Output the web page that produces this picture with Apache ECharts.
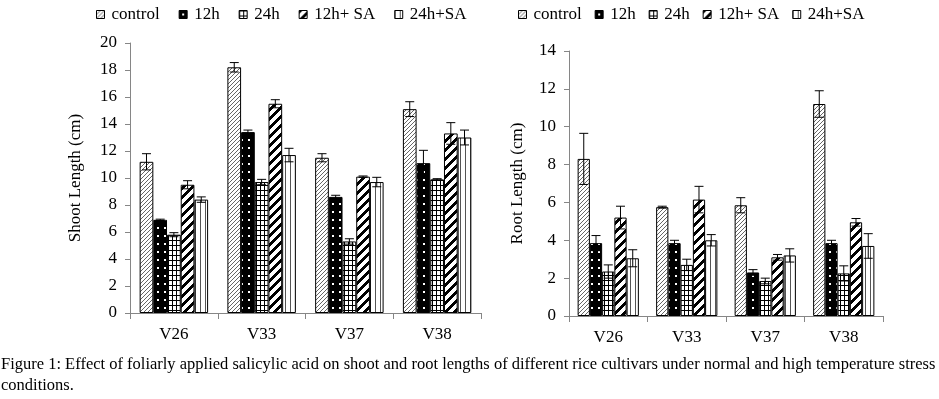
<!DOCTYPE html>
<html><head><meta charset="utf-8">
<script src="https://cdn.jsdelivr.net/npm/echarts@6/dist/echarts.min.js"></script>
<style>html,body{margin:0;padding:0;background:#fff}#c{width:939px;height:399px}</style>
</head><body><div id="c"></div>
<script>
const categories = ['V26', 'V33', 'V37', 'V38'];
const seriesNames = ['control', '12h', '24h', '12h+ SA', '24h+SA'];

// Shoot length (cm)
const shootControl = [11.2, 18.2, 11.5, 15.1];
const shoot12h     = [6.9, 13.4, 8.6, 11.1];
const shoot24h     = [5.8, 9.7, 5.3, 9.9];
const shoot12hSA   = [9.5, 15.5, 10.1, 13.3];
const shoot24hSA   = [8.4, 11.7, 9.7, 13.0];
const shootControlErr = [0.6, 0.35, 0.3, 0.55];
const shoot12hErr     = [0.05, 0.15, 0.12, 0.95];
const shoot24hErr     = [0.15, 0.2, 0.2, 0.05];
const shoot12hSAErr   = [0.3, 0.3, 0.05, 0.8];
const shoot24hSAErr   = [0.2, 0.5, 0.35, 0.55];

// Root length (cm)
const rootControl = [8.3, 5.75, 5.85, 11.2];
const root12h     = [3.85, 3.85, 2.3, 3.85];
const root24h     = [2.35, 2.7, 1.85, 2.25];
const root12hSA   = [5.2, 6.15, 3.1, 4.95];
const root24hSA   = [3.05, 4.0, 3.2, 3.7];
const rootControlErr = [1.35, 0.05, 0.4, 0.7];
const root12hErr     = [0.4, 0.15, 0.15, 0.15];
const root24hErr     = [0.35, 0.3, 0.15, 0.4];
const root12hSAErr   = [0.6, 0.7, 0.15, 0.2];
const root24hSAErr   = [0.45, 0.3, 0.35, 0.65];

const shootTicks = [0, 2, 4, 6, 8, 10, 12, 14, 16, 18, 20];
const rootTicks = [0, 2, 4, 6, 8, 10, 12, 14];
const captionLine1 = 'Figure 1: Effect of foliarly applied salicylic acid on shoot and root lengths of different rice cultivars under normal and high temperature stress';
const captionLine2 = 'conditions.';

// ---- patterns ----
function tile(w, h, bg, draw) {
  const c = document.createElement('canvas'); c.width = w; c.height = h;
  const g = c.getContext('2d'); g.fillStyle = bg; g.fillRect(0, 0, w, h); draw(g, w, h); return c;
}
function diag(g, n, t, col) {
  g.fillStyle = col;
  for (let x = 0; x < n; x++) for (let k = 0; k < t; k++) g.fillRect(x, (n - 1 - x + k) % n, 1, 1);
}
const patControl = tile(4, 4, '#fff', (g) => diag(g, 4, 1, '#666'));
const pat12h = tile(7, 8, '#000', (g) => { g.fillStyle = '#fff'; g.fillRect(3, 3, 2, 2); });
const pat24h = tile(4, 5, '#fff', (g) => { g.fillStyle = '#000'; g.fillRect(0, 0, 4, 1); g.fillRect(0, 0, 1, 5); });
const pat12hSA = tile(9, 9, '#fff', (g) => diag(g, 9, 4, '#000'));
const pat24hSA = tile(5, 2, '#fff', (g) => { g.fillStyle = '#555'; g.fillRect(0, 0, 1, 2); });
const patterns = [patControl, pat12h, pat24h, pat12hSA, pat24hSA];

const shootVals = [shootControl, shoot12h, shoot24h, shoot12hSA, shoot24hSA];
const shootErrs = [shootControlErr, shoot12hErr, shoot24hErr, shoot12hSAErr, shoot24hSAErr];
const rootVals = [rootControl, root12h, root24h, root12hSA, root24hSA];
const rootErrs = [rootControlErr, root12hErr, root24hErr, root12hSAErr, root24hSAErr];

const GAP = 0.22;
const FONT = 'Liberation Serif';

function errRender(params, api) {
  const ci = api.value(0), v = api.value(1), e = api.value(2), si = api.value(3);
  const catW = api.size([1, 0])[0];
  const bw = catW * (1 - GAP) / 5;
  const cx = api.coord([ci, v])[0] - catW * (1 - GAP) / 2 + (si + 0.5) * bw;
  const yt = api.coord([ci, v + e])[1], yb = api.coord([ci, v - e])[1];
  const cap = 4.5;
  const st = { stroke: '#000', lineWidth: 1 };
  return { type: 'group', children: [
    { type: 'line', shape: { x1: cx, y1: yt, x2: cx, y2: yb }, style: st },
    { type: 'line', shape: { x1: cx - cap, y1: yt, x2: cx + cap, y2: yt }, style: st },
    { type: 'line', shape: { x1: cx - cap, y1: yb, x2: cx + cap, y2: yb }, style: st }
  ]};
}

function makeSeries(vals, errs, axisIdx) {
  const out = [];
  vals.forEach((arr, i) => {
    out.push({
      type: 'bar', name: seriesNames[i], xAxisIndex: axisIdx, yAxisIndex: axisIdx,
      data: arr, barGap: '0%', barCategoryGap: (GAP * 100) + '%',
      itemStyle: { color: { image: patterns[i], repeat: 'repeat' }, borderColor: '#000', borderWidth: 1 },
      emphasis: { disabled: true }, animation: false
    });
  });
  const ed = [];
  vals.forEach((arr, i) => arr.forEach((v, ci) => ed.push([ci, v, errs[i][ci], i])));
  out.push({ type: 'custom', xAxisIndex: axisIdx, yAxisIndex: axisIdx, renderItem: errRender, data: ed, z: 5, animation: false, silent: true });
  return out;
}

function xAx(idx) {
  return { type: 'category', gridIndex: idx, data: categories,
    axisLine: { lineStyle: { color: '#868686', width: 1 } },
    axisTick: { show: true, length: 6, lineStyle: { color: '#868686' } },
    axisLabel: { fontFamily: FONT, fontSize: 17, color: '#000', margin: 13 } };
}
function yAx(idx, max, name, gap) {
  return { type: 'value', gridIndex: idx, min: 0, max: max, interval: 2,
    name: name, nameLocation: 'middle', nameGap: gap, nameRotate: 90,
    nameTextStyle: { fontFamily: FONT, fontSize: 17, color: '#000' },
    splitLine: { show: false },
    axisLine: { show: true, lineStyle: { color: '#868686', width: 1 } },
    axisTick: { show: true, length: 5, lineStyle: { color: '#868686' } },
    axisLabel: { fontFamily: FONT, fontSize: 17, color: '#000', margin: 13,
      formatter: (v) => String(v) } };
}

const legendCommon = { icon: 'rect', itemWidth: 8, itemHeight: 8, padding: 0, selectedMode: false,
  itemStyle: { borderColor: '#000', borderWidth: 1 },
  textStyle: { fontFamily: FONT, fontSize: 17, color: '#000', padding: [0, 0, 0, 2] } };

const chart = echarts.init(document.getElementById('c'), null, { renderer: 'canvas' });
chart.setOption({
  animation: false,
  backgroundColor: '#fff',
  grid: [
    { left: 130, top: 43, width: 351, height: 270 },
    { left: 569, top: 51, width: 314, height: 265 }
  ],
  legend: [
    Object.assign({ data: seriesNames, left: 96, top: 6, itemGap: 19 }, legendCommon),
    Object.assign({ data: seriesNames, left: 518, top: 6, itemGap: 13 }, legendCommon)
  ],
  xAxis: [xAx(0), xAx(1)],
  yAxis: [yAx(0, 20, 'Shoot Length (cm)', 46), yAx(1, 14, 'Root Length (cm)', 43)],
  series: [...makeSeries(shootVals, shootErrs, 0), ...makeSeries(rootVals, rootErrs, 1)],
  graphic: [
    { type: 'text', x: 1, y: 356, scaleX: 0.97, style: { text: captionLine1, font: '17px "' + FONT + '"', fill: '#000' } },
    { type: 'text', x: 1, y: 377, scaleX: 0.97, style: { text: captionLine2, font: '17px "' + FONT + '"', fill: '#000' } }
  ]
});
</script>
</body></html>
